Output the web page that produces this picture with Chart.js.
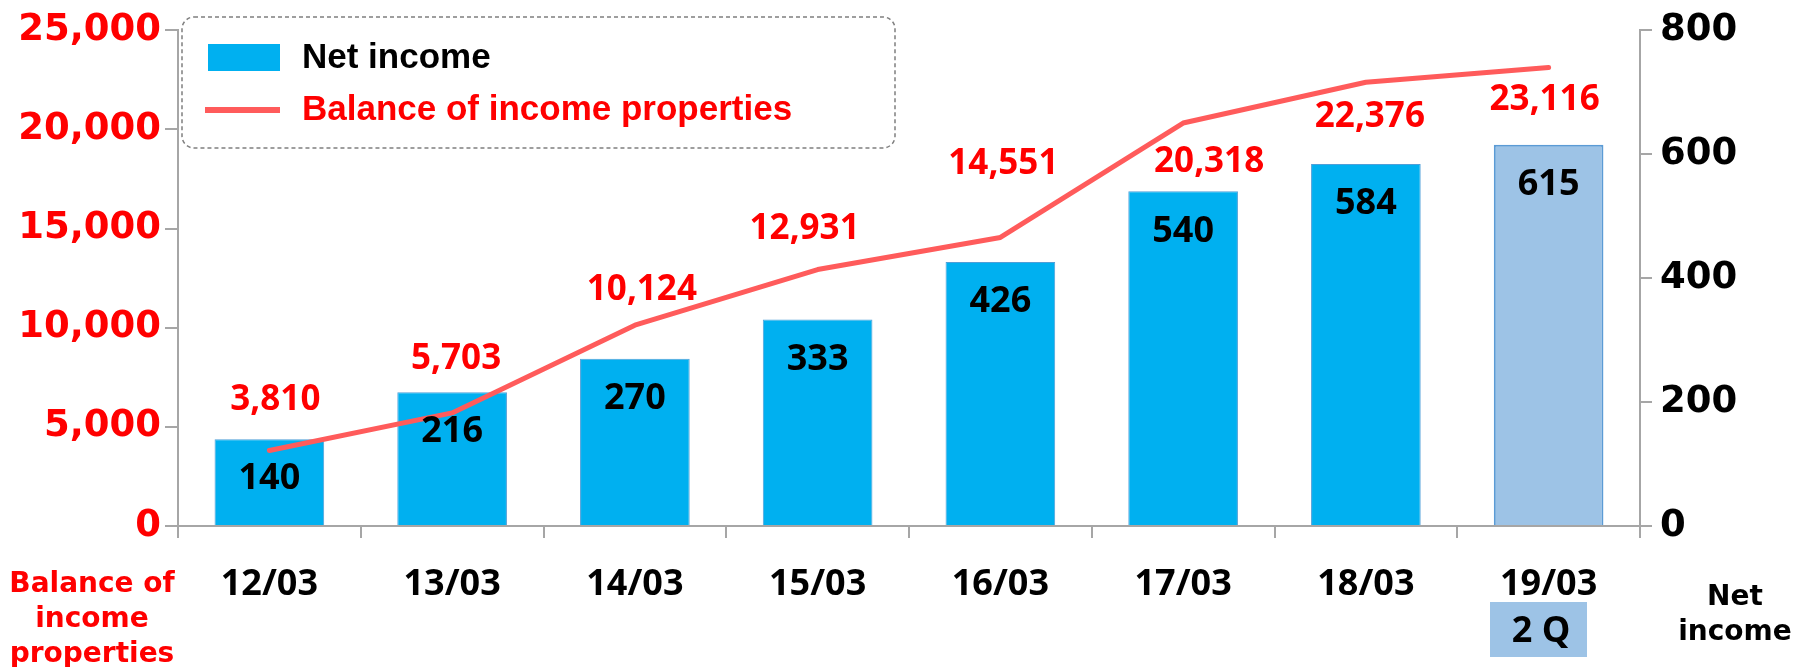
<!DOCTYPE html>
<html>
<head>
<meta charset="utf-8">
<script src="https://cdn.jsdelivr.net/npm/chart.js@4.4.0/dist/chart.umd.min.js"></script>
<style>
html, body { margin: 0; padding: 0; background: #fff; }
#wrap { width: 1808px; height: 667px; }
</style>
</head>
<body>
<div id="wrap"><canvas id="dataChart" width="1808" height="667"></canvas></div>
<script>
// fiscal year ends
var categories = ['12/03', '13/03', '14/03', '15/03', '16/03', '17/03', '18/03', '19/03'];
// net income (right axis)
var netIncome = [140, 216, 270, 333, 426, 540, 584, 615];
// balance of income properties (left axis)
var balance = [3810, 5703, 10124, 12931, 14551, 20318, 22376, 23116];
var leftTicks = [0, 5000, 10000, 15000, 20000, 25000];
var rightTicks = [0, 200, 400, 600, 800];

// last bar is the 2Q figure, drawn lighter
var barColors = ['#00B0F0', '#00B0F0', '#00B0F0', '#00B0F0', '#00B0F0', '#00B0F0', '#00B0F0', '#9DC3E6'];
var barBorders = ['#4F9FD8', '#4F9FD8', '#4F9FD8', '#4F9FD8', '#4F9FD8', '#4F9FD8', '#4F9FD8', '#5B9BD5'];
// hand placed nudges for the red labels, like in the original
var balanceLabelDx = [6, 4, 7, -13, 3, 26, 4, -4];
var balanceLabelDy = [-50, -54, -35, -41, -73, 39, 35, 32];

var axisGray = '#A6A6A6';
var tickFont = "'DejaVu Sans', Verdana, sans-serif";
var labelFont = "'Open Sans', Lato, sans-serif";

function fmt(v) {
    return v.toLocaleString('en-US');
}

var labelsPlugin = {
    id: 'valueLabels',
    afterDatasetsDraw: function (chart) {
        var ctx = chart.ctx;
        ctx.save();
        ctx.textAlign = 'center';
        ctx.textBaseline = 'middle';

        var barMeta = chart.getDatasetMeta(1);
        ctx.font = 'bold 36px ' + labelFont;
        ctx.fillStyle = '#000';
        barMeta.data.forEach(function (bar, i) {
            ctx.fillText(fmt(netIncome[i]), bar.x, bar.y + 40);
        });

        var lineMeta = chart.getDatasetMeta(0);
        ctx.font = 'bold 35px ' + labelFont;
        ctx.fillStyle = '#FF0000';
        lineMeta.data.forEach(function (pt, i) {
            ctx.fillText(fmt(balance[i]), pt.x + balanceLabelDx[i], pt.y + balanceLabelDy[i]);
        });
        ctx.restore();
    },
    afterDraw: function (chart) {
        var ctx = chart.ctx;
        var ds = chart.data.datasets;
        ctx.save();

        // legend box
        ctx.setLineDash([4, 3]);
        ctx.strokeStyle = '#7F7F7F';
        ctx.lineWidth = 1.5;
        ctx.beginPath();
        ctx.roundRect(182, 17, 713, 131, 12);
        ctx.stroke();
        ctx.setLineDash([]);

        ctx.fillStyle = ds[1].backgroundColor[0];
        ctx.fillRect(208, 44, 72, 27);
        ctx.strokeStyle = ds[0].borderColor;
        ctx.lineWidth = 6;
        ctx.beginPath();
        ctx.moveTo(205, 110);
        ctx.lineTo(280, 110);
        ctx.stroke();

        ctx.textAlign = 'left';
        ctx.textBaseline = 'middle';
        ctx.font = 'bold 35px "Liberation Sans", Arial, sans-serif';
        ctx.fillStyle = '#000';
        ctx.fillText(ds[1].label, 302, 58);
        ctx.fillStyle = '#FF0000';
        ctx.fillText(ds[0].label, 302, 110);

        // axis captions under the category labels
        ctx.textAlign = 'center';
        ctx.font = 'bold 28px ' + tickFont;
        ctx.fillStyle = '#FF0000';
        ctx.fillText('Balance of', 92, 585);
        ctx.fillText('income', 92, 620);
        ctx.fillText('properties', 92, 655);
        ctx.fillStyle = '#000';
        ctx.fillText('Net', 1735, 598);
        ctx.fillText('income', 1735, 633);

        // 2Q tag under the last category
        ctx.fillStyle = '#9DC3E6';
        ctx.fillRect(1490, 602, 97, 55);
        ctx.fillStyle = '#000';
        ctx.font = 'bold 36px ' + labelFont;
        ctx.fillText('2 Q', 1541, 632);
        ctx.restore();
    }
};

var ctx = document.getElementById('dataChart').getContext('2d');
var chartInstance = new Chart(ctx, {
    type: 'bar',
    data: {
        labels: categories,
        datasets: [{
            type: 'line',
            label: 'Balance of income properties',
            data: balance,
            yAxisID: 'yL',
            borderColor: '#FF5B5B',
            borderWidth: 5,
            borderCapStyle: 'round',
            borderJoinStyle: 'round',
            pointRadius: 0,
            tension: 0,
            fill: false,
            order: 0
        }, {
            label: 'Net income',
            data: netIncome,
            yAxisID: 'yR',
            backgroundColor: barColors,
            borderColor: barBorders,
            borderWidth: [1, 1, 1, 1, 1, 1, 1, 2],
            barPercentage: 0.6,
            categoryPercentage: 1,
            order: 1
        }]
    },
    options: {
        responsive: false,
        devicePixelRatio: 1,
        animation: false,
        layout: { padding: { top: 23, left: 0, right: 0, bottom: 0 } },
        plugins: {
            legend: { display: false },
            tooltip: { enabled: false }
        },
        scales: {
            x: {
                afterFit: function (s) { s.height = 141; },
                grid: { offset: true, drawOnChartArea: false, tickLength: 12, color: axisGray, lineWidth: 2 },
                border: { color: axisGray, width: 2 },
                ticks: {
                    color: '#000',
                    padding: 25,
                    font: { family: labelFont, weight: 'bold', size: 36, lineHeight: 1.2 }
                }
            },
            yL: {
                position: 'left',
                min: leftTicks[0],
                max: leftTicks[leftTicks.length - 1],
                afterFit: function (s) { s.width = 178; },
                afterBuildTicks: function (s) {
                    s.ticks = leftTicks.map(function (v) { return { value: v }; });
                },
                grid: { drawOnChartArea: false, tickLength: 13, color: axisGray, lineWidth: 2 },
                border: { color: axisGray, width: 2 },
                ticks: {
                    color: '#FF0000',
                    padding: 4,
                    font: { family: tickFont, weight: 'bold', size: 37 },
                    callback: function (v) { return fmt(v); }
                }
            },
            yR: {
                position: 'right',
                min: rightTicks[0],
                max: rightTicks[rightTicks.length - 1],
                afterFit: function (s) { s.width = 168; },
                afterBuildTicks: function (s) {
                    s.ticks = rightTicks.map(function (v) { return { value: v }; });
                },
                grid: { drawOnChartArea: false, tickLength: 12, color: axisGray, lineWidth: 2 },
                border: { color: axisGray, width: 2 },
                ticks: {
                    color: '#000',
                    padding: 8,
                    font: { family: tickFont, weight: 'bold', size: 37 },
                    callback: function (v) { return fmt(v); }
                }
            }
        }
    },
    plugins: [labelsPlugin]
});
</script>
</body>
</html>
